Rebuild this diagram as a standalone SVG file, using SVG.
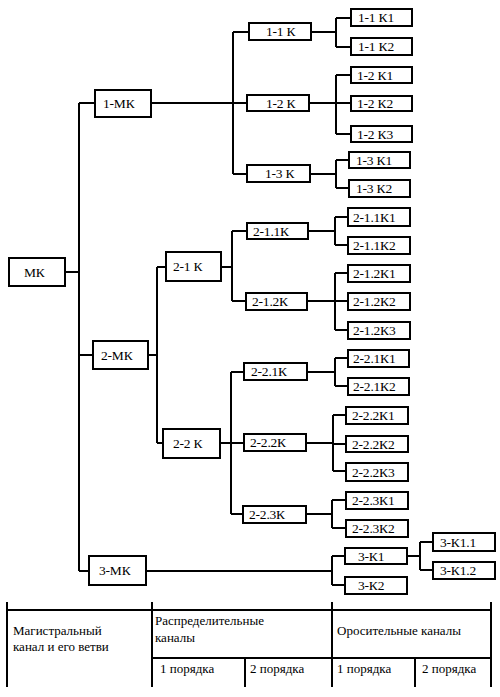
<svg xmlns="http://www.w3.org/2000/svg" width="500" height="697" viewBox="0 0 500 697">
<style>
rect{fill:#fff;stroke:#000;stroke-width:2}
text{font-family:"Liberation Serif","Times New Roman",serif;font-size:13.5px;fill:#000;letter-spacing:-0.2px}
.c path{fill:none;stroke:#000;stroke-width:2}
.t{font-size:13px;letter-spacing:0}
.tl line{stroke:#000;stroke-width:2}
</style>
<rect x="0" y="0" width="500" height="697" style="stroke:none"/>
<g class="c">
<path d="M79 103V571M65 272H79M79 103H95M79 355H93M79 571H89"/>
<path d="M151 103H233M233 32V174M233 32H249M233 103H247M233 174H247"/>
<path d="M311 32H336M336 18V47M336 18H351M336 47H351"/>
<path d="M309 103H336M336 75V134M336 75H351M336 103H351M336 134H351"/>
<path d="M310 174H336M336 160V188M336 160H349M336 188H349"/>
<path d="M148 355H157M157 267V443M157 267H166M157 443H163"/>
<path d="M221 267H232M232 231V301M232 231H247M232 301H246"/>
<path d="M308 231H335M335 217V245M335 217H348M335 245H348"/>
<path d="M307 301H335M335 273V330M335 273H348M335 301H348M335 330H348"/>
<path d="M220 443H231M231 372V514M231 372H244M231 443H244M231 514H243"/>
<path d="M307 372H335M335 358V386M335 358H348M335 386H348"/>
<path d="M306 443H333M333 415V471M333 415H346M333 444H346M333 471H346"/>
<path d="M306 514H332M332 500V528M332 500H346M332 528H346"/>
<path d="M146 571H332M332 556V585M332 556H345M332 585H345"/>
<path d="M407 556H420M420 542V570M420 542H433M420 570H433"/>
</g>
<g id="n-MK"><rect x="9" y="258" width="56" height="28"/><text x="24" y="277">МК</text></g>
<g id="n-1MK"><rect x="95" y="90" width="56" height="27"/><text x="103" y="108">1-МК</text></g>
<g id="n-2MK"><rect x="93" y="341" width="55" height="28"/><text x="101" y="360">2-МК</text></g>
<g id="n-3MK"><rect x="89" y="556" width="57" height="29"/><text x="99" y="575">3-МК</text></g>
<g id="n-1-1K"><rect x="249" y="23" width="62" height="17"/><text x="266" y="36">1-1 К</text></g>
<g id="n-1-2K"><rect x="247" y="95" width="62" height="16"/><text x="266" y="108">1-2 К</text></g>
<g id="n-1-3K"><rect x="247" y="165" width="63" height="17"/><text x="265" y="178">1-3 К</text></g>
<g id="n-1-1K1"><rect x="351" y="9" width="61" height="17"/><text x="358" y="22">1-1 К1</text></g>
<g id="n-1-1K2"><rect x="351" y="38" width="61" height="17"/><text x="358" y="51">1-1 К2</text></g>
<g id="n-1-2K1"><rect x="351" y="67" width="61" height="16"/><text x="357" y="80">1-2 К1</text></g>
<g id="n-1-2K2"><rect x="351" y="96" width="61" height="15"/><text x="357" y="108">1-2 К2</text></g>
<g id="n-1-2K3"><rect x="351" y="126" width="61" height="16"/><text x="357" y="139">1-2 К3</text></g>
<g id="n-1-3K1"><rect x="349" y="152" width="61" height="16"/><text x="356" y="165">1-3 К1</text></g>
<g id="n-1-3K2"><rect x="349" y="180" width="61" height="17"/><text x="356" y="193">1-3 К2</text></g>
<g id="n-2-1K"><rect x="166" y="252" width="55" height="29"/><text x="173" y="271">2-1 К</text></g>
<g id="n-2-2K"><rect x="163" y="429" width="57" height="29"/><text x="173" y="448">2-2 К</text></g>
<g id="n-2-1.1K"><rect x="247" y="223" width="61" height="16"/><text x="253" y="236">2-1.1К</text></g>
<g id="n-2-1.2K"><rect x="246" y="293" width="61" height="17"/><text x="252" y="306">2-1.2К</text></g>
<g id="n-2-1.1K1"><rect x="348" y="208" width="62" height="18"/><text x="353" y="222">2-1.1К1</text></g>
<g id="n-2-1.1K2"><rect x="348" y="237" width="62" height="17"/><text x="353" y="250">2-1.1К2</text></g>
<g id="n-2-1.2K1"><rect x="348" y="265" width="62" height="17"/><text x="353" y="278">2-1.2К1</text></g>
<g id="n-2-1.2K2"><rect x="348" y="293" width="62" height="17"/><text x="353" y="306">2-1.2К2</text></g>
<g id="n-2-1.2K3"><rect x="348" y="322" width="62" height="17"/><text x="353" y="335">2-1.2К3</text></g>
<g id="n-2-2.1K"><rect x="244" y="363" width="63" height="17"/><text x="251" y="376">2-2.1К</text></g>
<g id="n-2-2.1K1"><rect x="348" y="350" width="61" height="17"/><text x="353" y="363">2-2.1К1</text></g>
<g id="n-2-2.1K2"><rect x="348" y="378" width="61" height="17"/><text x="353" y="391">2-2.1К2</text></g>
<g id="n-2-2.2K"><rect x="244" y="434" width="62" height="17"/><text x="250" y="447">2-2.2К</text></g>
<g id="n-2-2.2K1"><rect x="346" y="407" width="62" height="17"/><text x="352" y="420">2-2.2К1</text></g>
<g id="n-2-2.2K2"><rect x="346" y="436" width="62" height="16"/><text x="352" y="449">2-2.2К2</text></g>
<g id="n-2-2.2K3"><rect x="346" y="463" width="62" height="18"/><text x="352" y="477">2-2.2К3</text></g>
<g id="n-2-2.3K"><rect x="243" y="506" width="63" height="17"/><text x="249" y="519">2-2.3К</text></g>
<g id="n-2-2.3K1"><rect x="346" y="492" width="62" height="17"/><text x="352" y="505">2-2.3К1</text></g>
<g id="n-2-2.3K2"><rect x="346" y="520" width="62" height="17"/><text x="352" y="533">2-2.3К2</text></g>
<g id="n-3-K1"><rect x="345" y="548" width="62" height="16"/><text x="358" y="561">3-К1</text></g>
<g id="n-3-K2"><rect x="345" y="577" width="62" height="17"/><text x="358" y="590">3-К2</text></g>
<g id="n-3-K1.1"><rect x="433" y="533" width="62" height="18"/><text x="440" y="547">3-К1.1</text></g>
<g id="n-3-K1.2"><rect x="433" y="562" width="62" height="17"/><text x="440" y="575">3-К1.2</text></g>
<g class="tl">
<line x1="6" y1="610" x2="492" y2="610"/>
<line x1="152" y1="658" x2="492" y2="658"/>
<line x1="7" y1="602" x2="7" y2="687"/>
<line x1="152" y1="602" x2="152" y2="687"/>
<line x1="332" y1="602" x2="332" y2="687"/>
<line x1="491" y1="602" x2="491" y2="687"/>
<line x1="245" y1="658" x2="245" y2="687"/>
<line x1="415" y1="658" x2="415" y2="687"/>
</g>
<g class="tt">
<text class="t" x="13" y="635">Магистральный</text>
<text class="t" x="13" y="651">канал и его ветви</text>
<text class="t" x="155" y="625">Распределительные</text>
<text class="t" x="155" y="642">каналы</text>
<text class="t" x="337" y="635">Оросительные каналы</text>
<text class="t" x="160" y="673">1 порядка</text>
<text class="t" x="250" y="673">2 порядка</text>
<text class="t" x="337" y="673">1 порядка</text>
<text class="t" x="422" y="673">2 порядка</text>
</g>
</svg>
